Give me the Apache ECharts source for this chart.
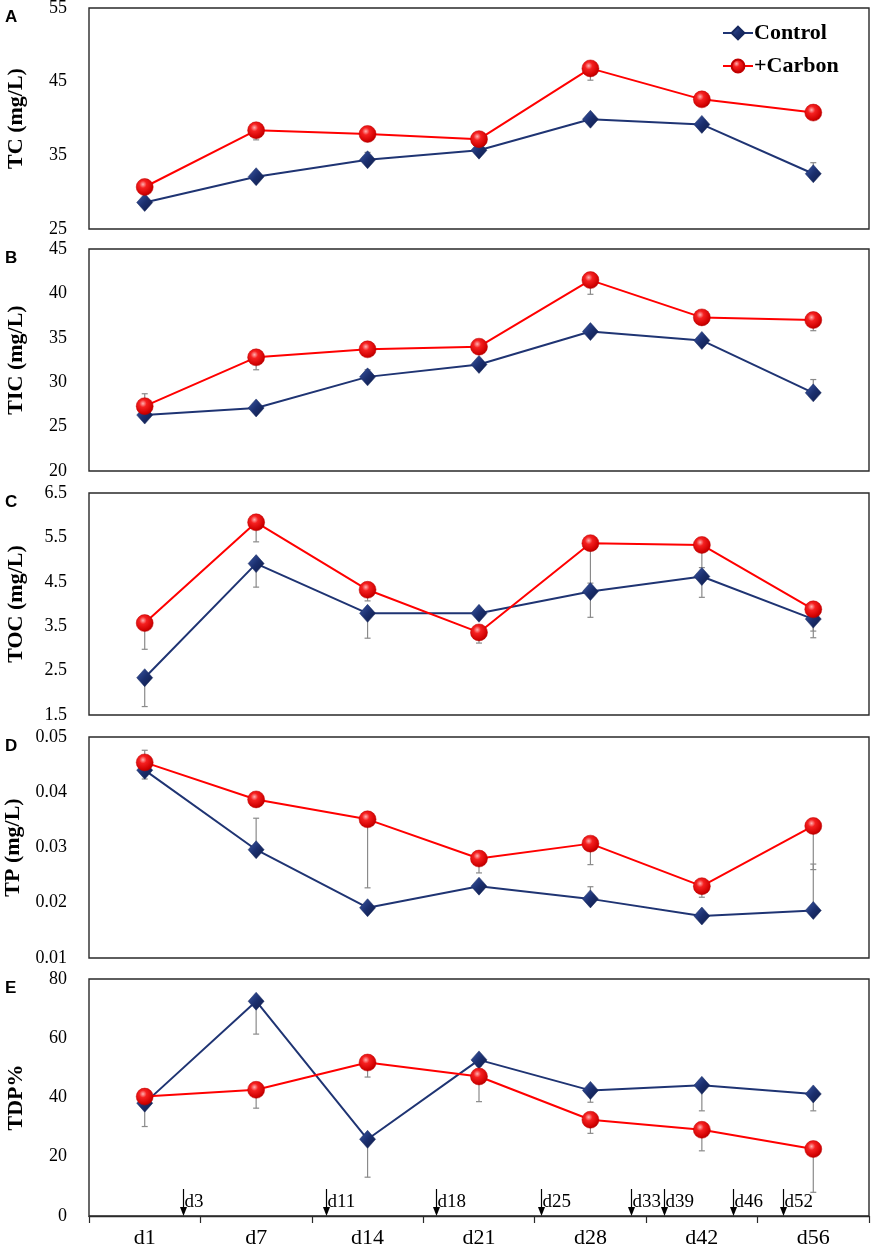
<!DOCTYPE html>
<html>
<head>
<meta charset="utf-8">
<script src="https://cdn.jsdelivr.net/npm/echarts@6/dist/echarts.min.js"></script>
<style>
html,body{margin:0;padding:0;background:#fff;}
#chart{width:872px;height:1251px;}
</style>
</head>
<body>
<div id="chart"></div>
<script>
// sampling days (x categories)
var days = ['d1', 'd7', 'd14', 'd21', 'd28', 'd42', 'd56'];

// A - TC
var tcControl    = [28.6, 32.1, 34.4, 35.7, 39.9, 39.2, 32.5];
var tcControlErr = [0.4, 0.5, 1.0, 0.4, 0.5, 0.5, 1.5];
var tcCarbon     = [30.7, 38.4, 37.9, 37.2, 46.8, 42.6, 40.8];
var tcCarbonErr  = [-0.4, -1.3, -0.5, -0.4, -1.6, -0.5, -0.5];
var tcTicks      = [25, 35, 45, 55];

// B - TIC
var ticControl    = [26.3, 27.1, 30.6, 32.0, 35.7, 34.7, 28.8];
var ticControlErr = [0.3, 0.3, 0.8, 0.3, 0.4, 0.5, 1.5];
var ticCarbon     = [27.3, 32.8, 33.7, 34.0, 41.5, 37.3, 37.0];
var ticCarbonErr  = [1.4, -1.4, -0.4, -0.4, -1.6, -0.4, -1.2];
var ticTicks      = [20, 25, 30, 35, 40, 45];

// C - TOC
var tocControl    = [2.34, 4.91, 3.79, 3.79, 4.28, 4.62, 3.66];
var tocControlErr = [-0.65, -0.53, -0.56, -0.1, -0.58, -0.47, -0.42];
var tocCarbon     = [3.57, 5.84, 4.32, 3.36, 5.37, 5.33, 3.88];
var tocCarbonErr  = [-0.59, -0.44, -0.25, -0.24, -0.9, -0.51, -0.49];
var tocTicks      = [1.5, 2.5, 3.5, 4.5, 5.5, 6.5];

// D - TP
var tpControl    = [0.0440, 0.0296, 0.0191, 0.0230, 0.0207, 0.0176, 0.0186];
var tpControlErr = [-0.0016, 0.0057, -0.0005, 0.0006, 0.0022, -0.0005, 0.0084];
var tpCarbon     = [0.0454, 0.0387, 0.0351, 0.0280, 0.0307, 0.0230, 0.0339];
var tpCarbonErr  = [0.0022, -0.0010, -0.0124, -0.0026, -0.0038, -0.0020, -0.0079];
var tpTicks      = [0.01, 0.02, 0.03, 0.04, 0.05];

// E - TDP%
var tdpControl    = [38.1, 72.5, 25.9, 52.7, 42.4, 44.1, 41.2];
var tdpControlErr = [-7.9, -11.1, -12.8, -2.0, -4.0, -8.6, -5.7];
var tdpCarbon     = [40.3, 42.6, 51.8, 47.1, 32.5, 29.1, 22.6];
var tdpCarbonErr  = [-2.0, -6.2, -4.9, -8.5, -4.6, -7.1, -14.6];
var tdpTicks      = [0, 20, 40, 60, 80];

// carbon addition days, position in category units
var addDays   = ['d3', 'd11', 'd18', 'd25', 'd33', 'd39', 'd46', 'd52'];
var addDayPos = [0.344, 1.631, 2.614, 3.553, 4.36, 4.66, 5.275, 5.728];

var panels = [
  {letter: 'A', name: 'TC (mg/L)',  ctrl: tcControl,  ctrlErr: tcControlErr,  carb: tcCarbon,  carbErr: tcCarbonErr,  ticks: tcTicks,  step: 5,   top: 8,   h: 221},
  {letter: 'B', name: 'TIC (mg/L)', ctrl: ticControl, ctrlErr: ticControlErr, carb: ticCarbon, carbErr: ticCarbonErr, ticks: ticTicks, step: 5,   top: 249, h: 222},
  {letter: 'C', name: 'TOC (mg/L)', ctrl: tocControl, ctrlErr: tocControlErr, carb: tocCarbon, carbErr: tocCarbonErr, ticks: tocTicks, step: 0.5, top: 493, h: 222},
  {letter: 'D', name: 'TP (mg/L)',  ctrl: tpControl,  ctrlErr: tpControlErr,  carb: tpCarbon,  carbErr: tpCarbonErr,  ticks: tpTicks,  step: 0.01, top: 737, h: 221},
  {letter: 'E', name: 'TDP%',       ctrl: tdpControl, ctrlErr: tdpControlErr, carb: tdpCarbon, carbErr: tdpCarbonErr, ticks: tdpTicks, step: 20,  top: 979, h: 237}
];

var serif = "'Liberation Serif', 'Times New Roman', serif";
var navy = '#1f3473';
var red = '#ff0000';
var frame = '#2a2a2a';

var diamondColor = new echarts.graphic.LinearGradient(0, 0, 1, 1, [
  {offset: 0, color: '#3d5aa8'},
  {offset: 0.5, color: '#1b2f6e'},
  {offset: 1, color: '#0e1a45'}
]);
var ballColor = new echarts.graphic.RadialGradient(0.4, 0.35, 0.7, [
  {offset: 0, color: '#ffb0b0'},
  {offset: 0.3, color: '#f52020'},
  {offset: 0.8, color: '#d00000'},
  {offset: 1, color: '#a00000'}
]);

function errBar(params, api) {
  var i = api.value(0), v = api.value(1), e = api.value(2);
  var p0 = api.coord([i, v]);
  var p1 = api.coord([i, v + e]);
  var st = {stroke: '#8a8a8a', lineWidth: 1.2};
  return {type: 'group', children: [
    {type: 'line', shape: {x1: p0[0], y1: p0[1], x2: p1[0], y2: p1[1]}, style: st},
    {type: 'line', shape: {x1: p1[0] - 3, y1: p1[1], x2: p1[0] + 3, y2: p1[1]}, style: st}
  ]};
}

function arrowMark(params, api) {
  var p = api.coord([api.value(0), 0]);
  var x = Math.round(p[0]) + 0.5, y = p[1];
  return {type: 'group', children: [
    {type: 'line', shape: {x1: x, y1: y - 27, x2: x, y2: y - 7}, style: {stroke: '#000', lineWidth: 1.2}},
    {type: 'polygon', shape: {points: [[x - 3.5, y - 9], [x + 3.5, y - 9], [x, y]]}, style: {fill: '#000'}},
    {type: 'text', x: x + 1, y: y - 14, style: {text: addDays[api.value(1)], font: '19px ' + serif, fill: '#000', align: 'left', verticalAlign: 'middle'}}
  ]};
}

function tickFormatter(ticks) {
  return function (v) {
    for (var k = 0; k < ticks.length; k++) {
      if (Math.abs(ticks[k] - v) < 1e-9) return String(ticks[k]);
    }
    return '';
  };
}

var grids = [], xAxes = [], yAxes = [], series = [], graphics = [];

panels.forEach(function (p, i) {
  var last = i === panels.length - 1;
  grids.push({
    left: 89, right: 3, top: p.top, height: p.h, show: true,
    borderColor: frame, borderWidth: 1.4, backgroundColor: 'transparent',
    outerBoundsMode: 'none', containLabel: false
  });
  xAxes.push({
    type: 'category', gridIndex: i, data: days, boundaryGap: true,
    axisLine: {show: last, lineStyle: {color: frame, width: 1.4}},
    axisTick: {show: last, length: 7, lineStyle: {color: frame, width: 1.2}},
    axisLabel: {show: last, fontFamily: serif, fontSize: 22, color: '#000', margin: 11},
    splitLine: {show: false}
  });
  yAxes.push({
    type: 'value', gridIndex: i,
    min: p.ticks[0], max: p.ticks[p.ticks.length - 1], interval: p.step,
    name: p.name, nameLocation: 'middle', nameGap: 62, nameRotate: 90,
    nameTextStyle: {fontFamily: serif, fontWeight: 'bold', fontSize: 22, color: '#000'},
    axisLine: {show: false}, axisTick: {show: false}, splitLine: {show: false},
    axisLabel: {formatter: tickFormatter(p.ticks), fontFamily: serif, fontSize: 18, color: '#000', margin: 22, showMinLabel: true, showMaxLabel: true}
  });

  series.push({
    type: 'custom', name: 'errCtrl' + i, xAxisIndex: i, yAxisIndex: i, renderItem: errBar, z: 1,
    encode: {x: 0, y: 1}, silent: true,
    data: p.ctrl.map(function (v, k) { return [k, v, p.ctrlErr[k]]; })
  });
  series.push({
    type: 'custom', name: 'errCarb' + i, xAxisIndex: i, yAxisIndex: i, renderItem: errBar, z: 1,
    encode: {x: 0, y: 1}, silent: true,
    data: p.carb.map(function (v, k) { return [k, v, p.carbErr[k]]; })
  });
  series.push({
    type: 'line', name: 'Control', xAxisIndex: i, yAxisIndex: i, data: p.ctrl, z: 3,
    symbol: 'diamond', symbolSize: [16, 18], showAllSymbol: true,
    lineStyle: {color: navy, width: 2},
    itemStyle: {color: diamondColor, borderColor: '#16285e', borderWidth: 0.5},
    animation: false
  });
  series.push({
    type: 'line', name: '+Carbon', xAxisIndex: i, yAxisIndex: i, data: p.carb, z: 4,
    symbol: 'circle', symbolSize: 17, showAllSymbol: true,
    lineStyle: {color: red, width: 2},
    itemStyle: {color: ballColor, borderColor: '#c00000', borderWidth: 0.5},
    animation: false
  });

  graphics.push({
    type: 'text', left: 5, top: p.top + 1,
    style: {text: p.letter, font: 'bold 17px "Liberation Sans", Arial, sans-serif', fill: '#000'}
  });
});

// hidden linear axis over grid E for the carbon-addition arrows
xAxes.push({type: 'value', gridIndex: 4, min: -0.5, max: 6.5, show: false});
series.push({
  type: 'custom', name: 'additions', xAxisIndex: 5, yAxisIndex: 4, renderItem: arrowMark, z: 5,
  encode: {x: 0}, silent: true,
  data: addDayPos.map(function (pos, k) { return [pos, k]; })
});

var chart = echarts.init(document.getElementById('chart'), null, {renderer: 'canvas'});
chart.setOption({
  animation: false,
  backgroundColor: '#fff',
  grid: grids,
  xAxis: xAxes,
  yAxis: yAxes,
  series: series,
  graphic: graphics,
  legend: {
    data: ['Control', '+Carbon'],
    orient: 'vertical', left: 717, top: 17, itemGap: 11,
    itemWidth: 30, itemHeight: 16,
    textStyle: {fontFamily: serif, fontWeight: 'bold', fontSize: 22, color: '#000', padding: [0, 0, 0, -4]}
  }
});
</script>
</body>
</html>
